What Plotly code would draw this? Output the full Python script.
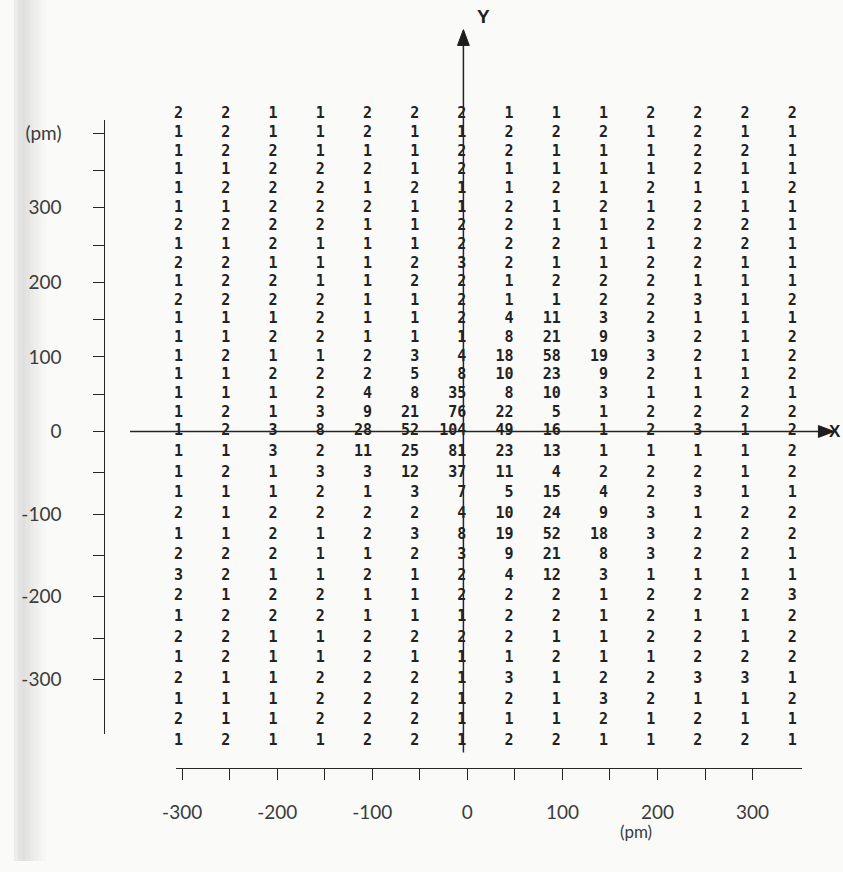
import plotly.graph_objects as go

W, H = 843, 872

# grid coordinates (pm) and counts per grid cell, rows from top to bottom
x_pm = [-300, -250, -200, -150, -100, -50, 0, 50, 100, 150, 200, 250, 300, 350]
y_pm = list(range(425, -376, -25))

counts = [
    [2, 2, 1, 1, 2, 2, 2, 1, 1, 1, 2, 2, 2, 2],
    [1, 2, 1, 1, 2, 1, 1, 2, 2, 2, 1, 2, 1, 1],
    [1, 2, 2, 1, 1, 1, 2, 2, 1, 1, 1, 2, 2, 1],
    [1, 1, 2, 2, 2, 1, 2, 1, 1, 1, 1, 2, 1, 1],
    [1, 2, 2, 2, 1, 2, 1, 1, 2, 1, 2, 1, 1, 2],
    [1, 1, 2, 2, 2, 1, 1, 2, 1, 2, 1, 2, 1, 1],
    [2, 2, 2, 2, 1, 1, 2, 2, 1, 1, 2, 2, 2, 1],
    [1, 1, 2, 1, 1, 1, 2, 2, 2, 1, 1, 2, 2, 1],
    [2, 2, 1, 1, 1, 2, 3, 2, 1, 1, 2, 2, 1, 1],
    [1, 2, 2, 1, 1, 2, 2, 1, 2, 2, 2, 1, 1, 1],
    [2, 2, 2, 2, 1, 1, 2, 1, 1, 2, 2, 3, 1, 2],
    [1, 1, 1, 2, 1, 1, 2, 4, 11, 3, 2, 1, 1, 1],
    [1, 1, 2, 2, 1, 1, 1, 8, 21, 9, 3, 2, 1, 2],
    [1, 2, 1, 1, 2, 3, 4, 18, 58, 19, 3, 2, 1, 2],
    [1, 1, 2, 2, 2, 5, 8, 10, 23, 9, 2, 1, 1, 2],
    [1, 1, 1, 2, 4, 8, 35, 8, 10, 3, 1, 1, 2, 1],
    [1, 2, 1, 3, 9, 21, 76, 22, 5, 1, 2, 2, 2, 2],
    [1, 2, 3, 8, 28, 52, 104, 49, 16, 1, 2, 3, 1, 2],
    [1, 1, 3, 2, 11, 25, 81, 23, 13, 1, 1, 1, 1, 2],
    [1, 2, 1, 3, 3, 12, 37, 11, 4, 2, 2, 2, 1, 2],
    [1, 1, 1, 2, 1, 3, 7, 5, 15, 4, 2, 3, 1, 1],
    [2, 1, 2, 2, 2, 2, 4, 10, 24, 9, 3, 1, 2, 2],
    [1, 1, 2, 1, 2, 3, 8, 19, 52, 18, 3, 2, 2, 2],
    [2, 2, 2, 1, 1, 2, 3, 9, 21, 8, 3, 2, 2, 1],
    [3, 2, 1, 1, 2, 1, 2, 4, 12, 3, 1, 1, 1, 1],
    [2, 1, 2, 2, 1, 1, 2, 2, 2, 1, 2, 2, 2, 3],
    [1, 2, 2, 2, 1, 1, 1, 2, 2, 1, 2, 1, 1, 2],
    [2, 2, 1, 1, 2, 2, 2, 2, 1, 1, 2, 2, 1, 2],
    [1, 2, 1, 1, 2, 1, 1, 1, 2, 1, 1, 2, 2, 2],
    [2, 1, 1, 2, 2, 2, 1, 3, 1, 2, 2, 3, 3, 1],
    [1, 1, 1, 2, 2, 2, 1, 2, 1, 3, 2, 1, 1, 2],
    [2, 1, 1, 2, 2, 2, 1, 1, 1, 2, 1, 2, 1, 1],
    [1, 2, 1, 1, 2, 2, 1, 2, 2, 1, 1, 2, 2, 1],
]

# ruler ticks and labels
y_ticks_up = [0, 50, 100, 150, 200, 250, 300, 350, 400]
y_text_up = ["0", "", "100", "", "200", "", "300", "", "(pm)"]
y_ticks_down = [-50, -100, -150, -200, -250, -300]
y_text_down = ["", "-100", "", "-200", "", "-300"]
x_ticks = [-300, -250, -200, -150, -100, -50, 0, 50, 100, 150, 200, 250, 300]
x_text = ["-300", "", "-200", "", "-100", "", "0", "", "100", "", "200", "", "300"]

INK = "#262626"
RULER_FONT = dict(family="Lato", size=19, color="#3c3c3c")
NUM_FONT = dict(family="DejaVu Sans Mono", size=15, color="#222222", weight="bold")


def px(x):
    return x / W


def py(y):
    return 1 - y / H


# page geometry in pixels
X0, SX = 460, 0.96            # x = 0 and pixels per pm for the grid
Y0 = 437                      # y = 0
RX = 92                       # vertical ruler
RY_TOP, RY_BOT = 122, 743
S_UP, S_DOWN = 0.755, 0.8367  # pixels per pm above / below the X axis
BX0, BX1, BY = 165, 801, 778  # bottom ruler
BXO, BXS = 461, 0.9667

up_x, up_y, up_t, dn_x, dn_y, dn_t = [], [], [], [], [], []
for yv, row in zip(y_pm, counts):
    for xv, c in zip(x_pm, row):
        if yv >= 0:
            up_x.append(xv); up_y.append(yv); up_t.append(str(c))
        else:
            dn_x.append(xv); dn_y.append(yv); dn_t.append(str(c))

fig = go.Figure()
for gx, gy, gt, ya in [(up_x, up_y, up_t, "y4"), (dn_x, dn_y, dn_t, "y5")]:
    fig.add_trace(go.Scatter(
        x=gx, y=gy, text=gt, mode="text", textposition="middle left",
        textfont=NUM_FONT, xaxis="x", yaxis=ya,
        cliponaxis=False, hoverinfo="skip", showlegend=False,
    ))
# empty traces that carry the rulers
for xa, ya in [("x", "y2"), ("x", "y3"), ("x2", "y")]:
    fig.add_trace(go.Scatter(x=[], y=[], xaxis=xa, yaxis=ya, mode="markers",
                             showlegend=False, hoverinfo="skip"))

ruler_common = dict(
    showline=True, linecolor=INK, linewidth=1.4, ticks="outside", ticklen=11,
    tickwidth=1.3, tickcolor=INK, tickmode="array", tickfont=RULER_FONT,
    showgrid=False, zeroline=False, fixedrange=True, anchor="free",
)
hidden = dict(visible=False, fixedrange=True)

fig.update_layout(
    width=W, height=H, margin=dict(l=0, r=0, t=0, b=0),
    paper_bgcolor="#fafaf9", plot_bgcolor="rgba(0,0,0,0)",
    showlegend=False,
    xaxis=dict(domain=[0, 1], range=[-X0 / SX, (W - X0) / SX], **hidden),
    yaxis=dict(domain=[0, 1], range=[0, 1], **hidden),
    # rulers
    yaxis2=dict(domain=[py(Y0), py(RY_TOP)], range=[0, (Y0 - RY_TOP) / S_UP],
                position=px(RX), side="left", tickvals=y_ticks_up, ticktext=y_text_up,
                ticklabelstandoff=28, **ruler_common),
    yaxis3=dict(domain=[py(RY_BOT), py(Y0)], range=[-(RY_BOT - Y0) / S_DOWN, 0],
                position=px(RX), side="left", tickvals=y_ticks_down, ticktext=y_text_down,
                ticklabelstandoff=28, **ruler_common),
    xaxis2=dict(domain=[px(BX0), px(BX1)], range=[(BX0 - BXO) / BXS, (BX1 - BXO) / BXS],
                position=py(BY), side="bottom", tickvals=x_ticks, ticktext=x_text,
                ticklabelstandoff=16, **ruler_common),
    # grid rows above / below the X axis, same scales as the rulers
    yaxis4=dict(domain=[py(Y0), 1], range=[0, Y0 / S_UP], anchor="x", **hidden),
    yaxis5=dict(domain=[0, py(Y0)], range=[-(H - Y0) / S_DOWN, 0], anchor="x", **hidden),
)

shapes = []
# scan shadow along the left edge
for i, a in enumerate([0.10, 0.16, 0.2, 0.17, 0.13, 0.09, 0.06, 0.03]):
    shapes.append(dict(type="rect", xref="paper", yref="paper",
                       x0=px(4 * i), x1=px(4 * i + 4), y0=0, y1=1,
                       fillcolor=f"rgba(120,120,120,{a})", line=dict(width=0), layer="below"))
# coordinate axes through the origin
shapes.append(dict(type="line", xref="paper", yref="paper", x0=px(457), x1=px(457),
                   y0=py(44), y1=py(762), line=dict(color=INK, width=1.5)))
shapes.append(dict(type="line", xref="paper", yref="paper", x0=px(118), x1=px(820),
                   y0=py(Y0), y1=py(Y0), line=dict(color=INK, width=1.5)))
# arrow heads
shapes.append(dict(type="path", xref="paper", yref="paper",
                   path=f"M {px(457)} {py(30)} L {px(451)} {py(46)} L {px(463)} {py(46)} Z",
                   fillcolor="#1e1e1e", line=dict(color="#1e1e1e", width=1)))
shapes.append(dict(type="path", xref="paper", yref="paper",
                   path=f"M {px(834)} {py(Y0)} L {px(818)} {py(Y0 - 6)} L {px(818)} {py(Y0 + 6)} Z",
                   fillcolor="#1e1e1e", line=dict(color="#1e1e1e", width=1)))

annotations = [
    dict(text="Y", xref="paper", yref="paper", x=px(477), y=py(17),
         xanchor="center", yanchor="middle", showarrow=False,
         font=dict(family="Liberation Sans", size=19, color="#1e1e1e", weight="bold")),
    dict(text="X", xref="paper", yref="paper", x=px(843), y=py(Y0),
         xanchor="right", yanchor="middle", showarrow=False,
         font=dict(family="Liberation Sans", size=17, color="#1e1e1e", weight="bold")),
    dict(text="(pm)", xref="paper", yref="paper", x=px(632), y=py(842),
         xanchor="center", yanchor="middle", showarrow=False,
         font=dict(family="Lato", size=17, color="#3c3c3c")),
]

fig.update_layout(shapes=shapes, annotations=annotations)
fig.write_html("out.html")
